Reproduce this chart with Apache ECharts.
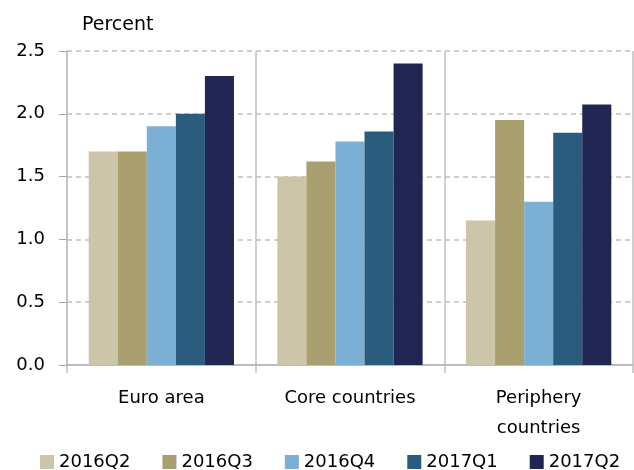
<!DOCTYPE html>
<html>
<head>
<meta charset="utf-8">
<script src="https://cdn.jsdelivr.net/npm/echarts@6/dist/echarts.min.js"></script>
<style>html,body{margin:0;padding:0;background:#fff}#c{width:634px;height:470px}</style>
</head>
<body>
<div id="c"></div>
<script>
const categories = ['Euro area', 'Core countries', 'Periphery\ncountries'];
const seriesNames = ['2016Q2', '2016Q3', '2016Q4', '2017Q1', '2017Q2'];
const s2016Q2 = [1.70, 1.50, 1.15];
const s2016Q3 = [1.70, 1.62, 1.95];
const s2016Q4 = [1.90, 1.78, 1.30];
const s2017Q1 = [2.00, 1.86, 1.85];
const s2017Q2 = [2.30, 2.40, 2.075];
const colors = ['#CCC5A8', '#AA9F6E', '#7BAFD4', '#2A5C7E', '#212551'];
const values = [s2016Q2, s2016Q3, s2016Q4, s2017Q1, s2017Q2];

const FONT = 'DejaVu Sans';
const chart = echarts.init(document.getElementById('c'));
chart.setOption({
  animation: false,
  textStyle: { fontFamily: FONT },
  title: {
    text: 'Percent', left: 82, top: 16, padding: 0,
    textStyle: { fontFamily: FONT, fontSize: 19, fontWeight: 'normal', color: '#000' }
  },
  legend: {
    data: seriesNames, left: 40, top: 453, padding: 0,
    icon: 'rect', itemWidth: 14, itemHeight: 14, itemGap: 32,
    textStyle: { fontFamily: FONT, fontSize: 18, color: '#000' }
  },
  grid: { left: 67, right: 1, top: 51, bottom: 105 },
  xAxis: {
    type: 'category', data: categories,
    axisLine: { lineStyle: { color: '#A6A6A6', width: 1.5 } },
    axisTick: { show: true, length: 8, lineStyle: { color: '#BFBFBF', width: 1.5 } },
    splitLine: { show: true, lineStyle: { color: '#BFBFBF', width: 1.5 } },
    axisLabel: { fontFamily: FONT, fontSize: 18, color: '#000', margin: 18, lineHeight: 30 }
  },
  yAxis: {
    type: 'value', min: 0, max: 2.5, interval: 0.5,
    axisLine: { show: true, lineStyle: { color: '#BFBFBF', width: 1.5 } },
    axisTick: { show: true, length: 8, lineStyle: { color: '#A6A6A6' } },
    splitLine: { show: true, showMinLine: false, lineStyle: { color: '#BFBFBF', type: [5, 4], width: 1.5 } },
    axisLabel: { fontFamily: FONT, fontSize: 18, color: '#000', margin: 22,
      formatter: v => v.toFixed(1) }
  },
  series: seriesNames.map((n, i) => ({
    name: n, type: 'bar', data: values[i],
    barGap: '0%', barCategoryGap: '23%',
    itemStyle: { color: colors[i] }
  }))
});
</script>
</body>
</html>
